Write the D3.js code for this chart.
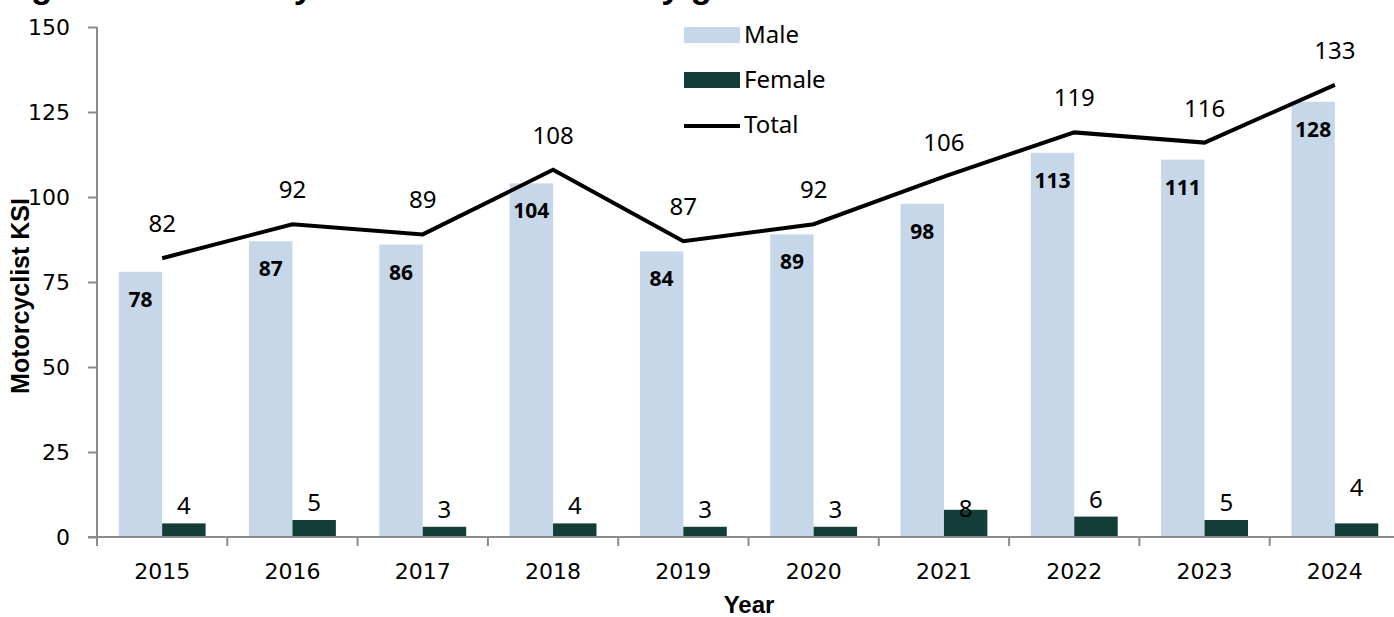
<!DOCTYPE html>
<html>
<head>
<meta charset="utf-8">
<script src="https://cdn.jsdelivr.net/npm/d3@7"></script>
<style>
  body { margin: 0; background: #fff; }
  svg { display: block; }
</style>
</head>
<body>
<div id="chart"></div>
<script>
// chart data
var years = ["2015", "2016", "2017", "2018", "2019", "2020", "2021", "2022", "2023", "2024"];
var male = [78, 87, 86, 104, 84, 89, 98, 113, 111, 128];
var female = [4, 5, 3, 4, 3, 3, 8, 6, 5, 4];
var total = [82, 92, 89, 108, 87, 92, 106, 119, 116, 133];
var yTicks = [0, 25, 50, 75, 100, 125, 150];

var W = 1394, H = 617;
var plotLeft = 97, plotRight = 1400, plotTop = 27, plotBottom = 537;

var maleColor = "#c6d7e9", femaleColor = "#133d37";
var axisColor = "#8c8c8c";
var labelFont = "'Noto Sans', sans-serif";
var tickFont = "'DejaVu Sans', sans-serif";
var boldFont = "'Liberation Sans', Arial, sans-serif";

var svg = d3.select("#chart").append("svg")
  .attr("width", W)
  .attr("height", H);

// scales
var x = d3.scaleBand().domain(years).range([plotLeft, plotRight]).paddingInner(0).paddingOuter(0);
var sub = d3.scaleBand().domain(["Male", "Female"]).range([0, x.bandwidth()]).paddingInner(0).paddingOuter(0.5);
var y = d3.scaleLinear().domain([0, 150]).range([plotBottom, plotTop]);

// title, cut off at the top edge in the original (only descenders show)
svg.append("text")
  .attr("x", 0)
  .attr("y", -2)
  .style("font-family", boldFont)
  .style("font-weight", "bold")
  .style("font-size", "35px")
  .text("Figure 10: Motorcyclist KSI casualties by gender");

// bars
var groups = svg.selectAll("g.year")
  .data(years)
  .enter().append("g")
  .attr("class", "year")
  .attr("transform", function(d) { return "translate(" + x(d) + ",0)"; });

groups.append("rect")
  .attr("x", sub("Male"))
  .attr("y", function(d, i) { return y(male[i]); })
  .attr("width", sub.bandwidth())
  .attr("height", function(d, i) { return y(0) - y(male[i]); })
  .style("fill", maleColor);

groups.append("rect")
  .attr("x", sub("Female"))
  .attr("y", function(d, i) { return y(female[i]); })
  .attr("width", sub.bandwidth())
  .attr("height", function(d, i) { return y(0) - y(female[i]); })
  .style("fill", femaleColor);

// male labels, bold inside bar top
groups.append("text")
  .attr("x", sub("Male") + sub.bandwidth() / 2)
  .attr("y", function(d, i) { return y(male[i]) + 35; })
  .attr("text-anchor", "middle")
  .style("font-family", labelFont)
  .style("font-weight", "bold")
  .style("font-size", "21px")
  .text(function(d, i) { return male[i]; });

// female labels above bar (a couple were nudged in the original)
var femaleNudge = {6: 16, 9: -18};
groups.append("text")
  .attr("x", sub("Female") + sub.bandwidth() / 2)
  .attr("y", function(d, i) { return y(female[i]) - 9 + (femaleNudge[i] || 0); })
  .attr("text-anchor", "middle")
  .style("font-family", labelFont)
  .style("font-size", "24px")
  .text(function(d, i) { return female[i]; });

// axes
var yAxis = svg.append("g")
  .attr("transform", "translate(" + plotLeft + ",0)")
  .call(d3.axisLeft(y).tickValues(yTicks).tickSize(9).tickPadding(18));
yAxis.selectAll("text")
  .style("font-family", tickFont)
  .style("font-size", "22px")
  .style("fill", "#000");

var xAxis = svg.append("g")
  .attr("transform", "translate(0," + plotBottom + ")")
  .call(d3.axisBottom(x).tickSize(0).tickPadding(26));
xAxis.selectAll("text")
  .style("font-family", tickFont)
  .style("font-size", "22px")
  .style("fill", "#000");
// ticks at category boundaries
xAxis.selectAll("line.bound")
  .data(years)
  .enter().append("line")
  .attr("class", "bound")
  .attr("x1", function(d) { return x(d); })
  .attr("x2", function(d) { return x(d); })
  .attr("y1", 0)
  .attr("y2", 9);

svg.selectAll(".domain, .tick line, line.bound")
  .style("stroke", axisColor)
  .style("stroke-width", 2);
xAxis.select(".domain").attr("d", "M" + (plotLeft - 9) + ",0H" + plotRight);
yAxis.select(".domain").attr("d", "M0," + plotTop + "V" + (plotBottom + 9));

// total line
var line = d3.line()
  .x(function(d, i) { return x(years[i]) + x.bandwidth() / 2; })
  .y(function(d) { return y(d); });

svg.append("path")
  .datum(total)
  .attr("d", line)
  .style("fill", "none")
  .style("stroke", "#000")
  .style("stroke-width", 4);

svg.selectAll("text.total")
  .data(total)
  .enter().append("text")
  .attr("class", "total")
  .attr("x", function(d, i) { return x(years[i]) + x.bandwidth() / 2; })
  .attr("y", function(d) { return y(d) - 26; })
  .attr("text-anchor", "middle")
  .style("font-family", labelFont)
  .style("font-size", "24px")
  .text(function(d) { return d; });

// axis titles
svg.append("text")
  .attr("transform", "translate(29,296) rotate(-90)")
  .attr("text-anchor", "middle")
  .style("font-family", boldFont)
  .style("font-weight", "bold")
  .style("font-size", "25px")
  .text("Motorcyclist KSI");

svg.append("text")
  .attr("x", 749)
  .attr("y", 613)
  .attr("text-anchor", "middle")
  .style("font-family", boldFont)
  .style("font-weight", "bold")
  .style("font-size", "24px")
  .text("Year");

// legend
var legend = svg.append("g").attr("transform", "translate(684,0)");
legend.append("rect").attr("x", 0).attr("y", 27).attr("width", 56).attr("height", 16).style("fill", maleColor);
legend.append("rect").attr("x", 0).attr("y", 72).attr("width", 56).attr("height", 16).style("fill", femaleColor);
legend.append("line").attr("x1", 0).attr("x2", 56).attr("y1", 126).attr("y2", 126)
  .style("stroke", "#000").style("stroke-width", 4);
var legendNames = ["Male", "Female", "Total"];
legend.selectAll("text.leg")
  .data(legendNames)
  .enter().append("text")
  .attr("class", "leg")
  .attr("x", 60)
  .attr("y", function(d, i) { return 43 + i * 45; })
  .style("font-family", labelFont)
  .style("font-size", "24px")
  .text(function(d) { return d; });
</script>
</body>
</html>
